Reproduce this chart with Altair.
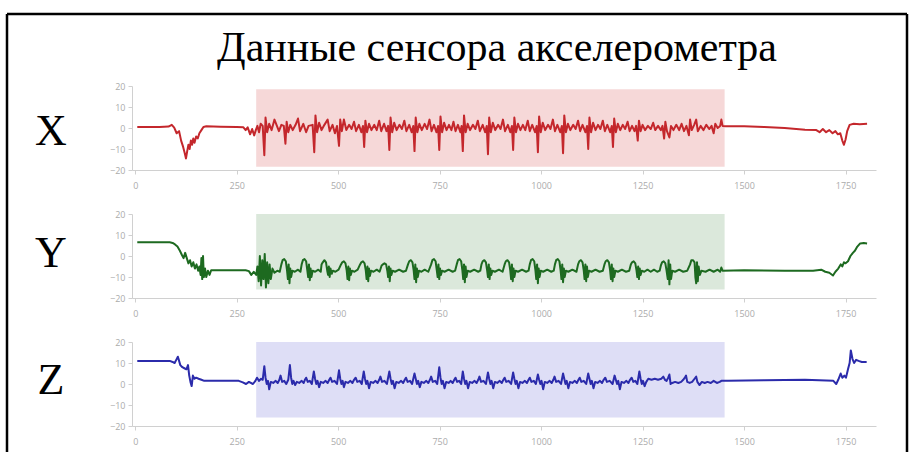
import altair as alt
import pandas as pd

# ---- text ----
TITLE = "Данные сенсора акселерометра"
AXIS_NAMES = ["X", "Y", "Z"]

# ---- axes ----
x_ticks = [0, 250, 500, 750, 1000, 1250, 1500, 1750]
y_ticks = [-20, -10, 0, 10, 20]
x_domain = [-8, 1825]
y_domain = [-20, 20]

# ---- highlighted (walking) interval per axis ----
active_start = 298
active_end = 1452
band_low = [-18.5, -16, -16]
band_high = [18.5, 20, 20]

line_colors = ["#c4272c", "#1d6a20", "#2b2bab"]
band_colors = ["#f6d8d8", "#dbe8db", "#dedef6"]

# ---- accelerometer samples: (sample index, value) ----
accel_x = [
    (5, 0.5), (60, 0.5), (82, 0.7), (90, 1.5), (96, 0.2), (102, -2.5), (108, -1.5), (113, -6),
    (118, -9), (122, -12), (125, -14.5), (128, -11), (131, -8), (134, -10), (137, -6), (140, -8),
    (143, -5), (146, -7), (150, -4), (154, -5), (158, -2.5), (163, -1), (168, 0.5), (175, 0.8),
    (210, 0.6), (250, 0.5), (266, 0.4), (272, -1), (277, 0.3), (283, -3), (288, -0.5), (293, -3.5),
    (297, -1), (301, 1), (305, -2), (309, 2),
    (314, 1), (318, -13), (321, 5), (325, -2), (330, 2), (336, -1), (343, 4), (349, 1), (354, -1.5), (360, 1.5),
    (366, 1), (370, -7.5), (373, 3), (377, -2), (382, 1.5), (388, -1), (395, 1.5), (401, 4.5), (406, -1.5), (414, 2), (421, -2), (427, 1),
    (437, 1.5), (441, -11.5), (444, 6), (448, -2), (453, 2.5), (459, -1), (466, 1.5), (474, 4), (479, -1.5), (486, 1.5), (492, -2.5), (497, 1),
    (502, -8.5), (505, 4), (509, -1.5), (514, 4), (520, -1), (527, 1.5), (533, -0.5), (539, 3), (544, -1.5), (551, 1.5), (557, -2), (561, 1),
    (564, -9), (567, 3.5), (571, -2), (576, 2), (582, -1), (589, 1.5), (595, -1), (601, 3.5), (606, -1.5), (613, 2), (619, -1.5), (623, 1),
    (626, -10.5), (629, 5), (633, -2), (638, 2.5), (644, -1), (651, 1.5), (657, -0.5), (663, 3.5), (668, -1.5), (675, 1.5), (681, -2), (685, 1),
    (688, -11), (691, 5), (695, -2), (700, 2), (706, -1), (713, 2), (719, -0.5), (725, 4), (730, -1.5), (736, 1.5), (742, -2), (746, 1),
    (749, -10.5), (752, 5.5), (756, -2), (761, 2.5), (767, -1), (773, 1.5), (779, -1), (784, 3), (789, -1.5), (795, 1.5), (801, -2), (804, 1),
    (807, -11), (810, 6), (814, -2), (819, 2), (825, -1), (832, 1.5), (838, -0.5), (844, 3.5), (849, -1.5), (856, 1.5), (862, -2), (866, 1),
    (869, -12.5), (872, 5), (876, -2), (881, 2.5), (887, -1), (894, 1.5), (900, -0.5), (906, 4), (911, -1.5), (918, 1.5), (924, -2), (928, 1),
    (931, -10.5), (934, 5), (938, -2), (943, 2), (949, -1), (955, 1.5), (961, -1), (967, 3.5), (972, -1.5), (978, 1.5), (985, -2), (989, 1),
    (992, -11.5), (995, 5.5), (999, -2), (1004, 2.5), (1010, -1), (1017, 1.5), (1023, -0.5), (1029, 4), (1034, -1.5), (1040, 1.5), (1047, -2), (1051, 1),
    (1054, -12), (1057, 6), (1061, -2), (1066, 2), (1072, -1), (1079, 1.5), (1085, -0.5), (1091, 3.5), (1096, -1.5), (1102, 1.5), (1109, -2), (1113, 1),
    (1116, -10), (1119, 5), (1123, -2), (1128, 2.5), (1134, -1), (1140, 1.5), (1146, -0.5), (1152, 3.5), (1157, -1.5), (1163, 1.5), (1170, -2), (1174, 1),
    (1177, -9), (1180, 4.5), (1184, -2), (1189, 2), (1195, -1), (1201, 1.5), (1207, -0.5), (1213, 3), (1218, -1.5), (1224, 1), (1230, -1.5), (1234, 1),
    (1238, -6), (1241, 3.5), (1245, -1.5), (1250, 1.5), (1256, -1), (1263, 1), (1270, -0.5), (1276, 2.5), (1281, -1), (1288, 1), (1295, -1), (1299, 1),
    (1303, -5), (1306, 3), (1310, -1.5), (1316, -4.5), (1320, 1), (1326, -1), (1333, 1.5), (1340, -1), (1346, 2), (1352, -1.5), (1358, 1),
    (1364, -3.5), (1367, 4), (1371, -1), (1377, 1.5), (1382, 4), (1386, -1.5), (1393, 1), (1400, -1), (1407, 1.5), (1414, -0.5),
    (1420, 1), (1425, -2.5), (1429, 2), (1435, 0), (1441, 1), (1444, 4), (1447, 1),
    (1455, 0.8), (1500, 0.8), (1550, 0.5), (1600, 0), (1650, -0.8), (1678, -1), (1686, -2), (1694, -0.5),
    (1702, -2), (1710, -1), (1718, -2.5), (1725, -1.5), (1731, -3), (1737, -2.5), (1742, -6), (1746, -8),
    (1750, -5.5), (1754, -1.5), (1760, 1.5), (1770, 2), (1785, 1.8), (1803, 2),
]

accel_y = [
    (5, 6.5), (85, 6.5), (92, 6.2), (98, 5.5), (104, 4.5), (110, 2.5), (115, 0.5), (119, -1),
    (123, 1.5), (127, -1), (131, -3.5), (135, -2), (139, -5), (143, -3), (147, -6), (151, -4),
    (155, -7), (158, -5), (161, -9), (163, -1), (165, -11), (167, 0), (169, -10), (172, -6),
    (175, -10), (179, -7), (183, -9), (187, -6.8), (230, -6.8), (272, -6.8), (280, -7.2), (286, -9),
    (292, -7.5), (298, -9),
    (301, -5), (304, -12), (307, 0), (310, -14), (313, -2), (316, -11), (319, 1), (322, -15),
    (325, -3), (328, -13), (331, -4), (334, -11), (338, -6), (343, -8), (350, -7), (356, -7.5),
    (360, -4), (363, -2), (367, -1.5), (371, -2.5), (374, -7), (376, -11), (378, -4), (380, -13), (382, -6), (384, -10), (387, -7), (393, -7.5), (401, -6.5), (407, -7.5),
    (410, -4), (413, -2), (417, -1.5), (421, -2.5), (424, -7), (426, -10), (428, -4), (430, -11.5), (432, -6), (434, -10), (437, -7), (443, -7.5), (451, -6.5), (457, -7.5),
    (459, -4), (462, -3), (466, -2), (470, -3), (473, -7), (475, -9), (477, -5), (479, -10), (481, -6), (484, -8.5), (487, -7), (493, -7.5), (501, -6.5),
    (507, -4), (510, -3), (514, -2.5), (518, -3.5), (521, -7), (523, -11), (525, -5), (527, -11.5), (529, -6), (531, -9), (534, -7), (540, -7.5), (548, -6.5),
    (554, -4), (557, -3), (561, -2.5), (565, -3.5), (568, -7), (570, -11), (572, -5), (574, -12), (576, -6), (578, -9.5), (581, -7), (587, -7.5), (595, -6.5), (602, -7.5),
    (607, -4.5), (610, -4), (614, -3.5), (618, -4), (621, -7), (623, -10), (625, -5), (627, -12), (629, -6), (631, -9), (634, -7), (640, -7.5), (650, -6.5), (660, -7.5), (667, -7),
    (672, -4), (675, -2.5), (679, -2), (683, -3), (686, -7), (688, -11), (690, -4), (692, -12.5), (694, -6), (696, -10), (699, -7), (705, -7.5), (713, -6.5), (722, -7.5),
    (729, -4), (732, -2), (736, -1.5), (740, -2.5), (743, -7), (745, -10), (747, -4), (749, -11), (751, -6), (753, -9), (756, -7), (762, -7.5), (772, -6.5), (782, -7.5), (788, -7),
    (792, -4), (795, -2), (799, -1.5), (803, -2.5), (806, -7), (808, -11), (810, -4), (812, -12.5), (814, -5), (816, -10), (819, -7), (825, -7.5), (835, -6.5), (845, -7.5), (850, -7),
    (853, -4), (856, -2.5), (860, -2), (864, -3), (867, -7), (869, -10), (871, -4), (873, -11), (875, -6), (877, -9), (880, -7), (886, -7.5), (896, -6.5), (905, -7.5),
    (910, -4), (913, -2.5), (917, -2), (921, -3), (924, -7), (926, -11), (928, -4), (930, -12), (932, -6), (934, -10), (937, -7), (943, -7.5), (953, -6.5), (963, -7.5), (969, -7),
    (972, -4), (975, -2), (979, -1.5), (983, -2.5), (986, -7), (988, -11), (990, -4), (992, -13), (994, -6), (996, -10), (999, -7), (1005, -7.5), (1015, -6.5), (1025, -7.5), (1031, -7),
    (1034, -4), (1037, -2), (1041, -1.5), (1045, -2.5), (1048, -7), (1050, -11), (1052, -4), (1054, -12.5), (1056, -6), (1058, -10), (1061, -7), (1067, -7.5), (1077, -6.5), (1087, -7.5),
    (1091, -4), (1094, -2.5), (1098, -2), (1102, -3), (1105, -7), (1107, -11), (1109, -4), (1111, -12), (1113, -5), (1115, -10), (1118, -7), (1124, -7.5), (1134, -6.5), (1144, -7.5), (1152, -7),
    (1156, -4), (1159, -2.5), (1163, -2), (1167, -3), (1170, -7), (1172, -11), (1174, -4), (1176, -12), (1178, -6), (1180, -10), (1183, -7), (1189, -7.5), (1199, -6.5), (1209, -7.5), (1217, -7),
    (1221, -4), (1224, -3), (1228, -2.5), (1232, -3.5), (1235, -7), (1237, -10), (1239, -5), (1241, -11), (1243, -6), (1245, -9), (1248, -7), (1254, -7.5), (1262, -6.5), (1270, -7.5), (1278, -6.5), (1286, -7.5), (1292, -7),
    (1295, -4.5), (1298, -3), (1302, -2.5), (1306, -3.5), (1309, -7), (1312, -11), (1314, -2), (1316, -13.5), (1318, -4), (1320, -11), (1323, -7), (1330, -7.5), (1340, -6.5), (1350, -7.5), (1360, -7),
    (1367, -4), (1370, -2), (1374, -2), (1378, -3), (1380, -10), (1382, -13), (1384, -3), (1386, -12), (1388, -5), (1391, -9), (1395, -7), (1405, -7.5), (1415, -6.5), (1425, -7.5), (1435, -6.5), (1441, -7.5), (1444, -5.5), (1447, -7),
    (1500, -6.8), (1600, -7), (1670, -7), (1690, -6.5), (1700, -7.5), (1710, -8), (1719, -9.3), (1725, -7.5),
    (1732, -6), (1738, -4), (1742, -5), (1746, -3), (1750, -3.5), (1756, -2.5), (1762, 0), (1768, 1.5),
    (1773, 2.5), (1779, 4.5), (1786, 6), (1795, 6.2), (1803, 6),
]

accel_z = [
    (5, 11), (85, 11), (92, 10.5), (97, 10), (101, 11.5), (105, 13), (108, 11), (111, 9),
    (116, 8), (121, 7.5), (126, 7), (130, 9), (133, 4), (136, 1), (139, -1), (142, 4),
    (146, 2.5), (150, 3), (156, 2.5), (163, 2), (170, 1.5), (220, 1.5), (255, 1.5), (265, 0.8),
    (273, 0), (280, 1), (290, 0), (296, 1.5), (300, 3), (305, 1.5), (310, 2.5),
    (314, 2), (318, 8.5), (321, 3), (324, 0), (327, 1.5), (330, -2.5), (334, 1), (340, 0.5), (346, 1.5), (351, 0.5), (355, 2), (358, 4), (362, 1), (367, 1.5), (372, 0),
    (377, 2), (381, 9), (384, 3), (387, 0), (390, 1.5), (394, -0.5), (398, 1), (404, 0.5), (410, 1.5), (415, 0.5), (418, 2), (421, 3), (425, 1), (430, 1.5), (435, 0),
    (440, 6), (443, 2.5), (446, 0), (449, 1.5), (453, -1.5), (457, 1), (463, 0.5), (469, 1.5), (474, 0.5), (478, 2), (481, 3), (485, 1), (491, 1.5), (497, 0),
    (502, 6.5), (505, 2.5), (508, 0), (511, 1.5), (514, -1.5), (518, 1), (524, 0.5), (530, 1.5), (535, 0.5), (539, 2), (543, 3), (547, 1), (553, 1.5), (558, 0),
    (563, 6), (566, 2.5), (569, 0), (572, 1.5), (576, -2), (580, 1), (586, 0.5), (592, 1.5), (597, 0.5), (601, 2), (604, 3.5), (608, 1), (614, 1.5), (620, 0),
    (626, 6), (629, 2.5), (632, 0), (635, 1.5), (639, -2), (643, 1), (649, 0.5), (655, 1.5), (660, 0.5), (664, 2), (667, 3), (671, 1), (677, 1.5), (682, 0),
    (688, 5), (691, 2.5), (694, 0), (697, 1.5), (701, -1.5), (705, 1), (711, 0.5), (717, 1.5), (722, 0.5), (726, 2), (729, 3.5), (733, 1), (739, 1.5), (744, 0),
    (749, 8), (752, 3), (755, 0), (758, 1.5), (762, -2), (766, 1), (772, 0.5), (777, 1.5), (782, 0.5), (786, 2), (789, 3), (793, 1), (798, 1.5), (803, 0),
    (807, 6), (810, 2.5), (813, 0), (816, 1.5), (820, -2), (824, 1), (830, 0.5), (836, 1.5), (841, 0.5), (845, 2), (848, 3.5), (852, 1), (858, 1.5), (864, 0),
    (869, 5.5), (872, 2.5), (875, 0), (878, 1.5), (882, -2), (886, 1), (892, 0.5), (898, 1.5), (903, 0.5), (907, 2), (910, 3), (914, 1), (920, 1.5), (926, 0),
    (931, 5.5), (934, 2.5), (937, 0), (940, 1.5), (944, -2), (948, 1), (954, 0.5), (960, 1.5), (965, 0.5), (969, 2), (972, 3), (976, 1), (982, 1.5), (987, 0),
    (992, 4.5), (995, 2), (998, 0), (1001, 1.5), (1005, -2.5), (1009, 1), (1015, 0.5), (1021, 1.5), (1026, 0.5), (1030, 2), (1033, 3.5), (1037, 1), (1043, 1.5), (1049, 0),
    (1054, 5), (1057, 2.5), (1060, 0), (1063, 1.5), (1067, -2), (1071, 1), (1077, 0.5), (1083, 1.5), (1088, 0.5), (1092, 2), (1095, 3), (1099, 1), (1105, 1.5), (1111, 0),
    (1116, 5), (1119, 2.5), (1122, 0), (1125, 1.5), (1129, -2), (1133, 1), (1139, 0.5), (1145, 1.5), (1150, 0.5), (1154, 2), (1158, 3), (1162, 1), (1169, 1.5), (1176, 0),
    (1181, 4), (1184, 2), (1187, 0), (1190, 1.5), (1194, -2.5), (1198, 1), (1204, 0.5), (1210, 1.5), (1215, 0.5), (1219, 2), (1223, 3), (1227, 1), (1232, 1.5), (1237, 0),
    (1242, 6), (1245, 2.5), (1248, 0), (1251, 1.5), (1255, -1), (1259, 1), (1264, 2.5), (1272, 2), (1280, 2.5), (1288, 2),
    (1296, 2.5), (1301, 3.5), (1305, 2), (1309, 1.5), (1313, 3), (1316, 4.5), (1319, 0), (1323, 0.5), (1330, 1), (1338, 0.5),
    (1345, 1), (1350, 2), (1354, 3), (1357, 4), (1360, 1), (1366, 0.5), (1372, 1), (1378, 2.5), (1382, 3.5), (1385, 1),
    (1390, -0.5), (1396, 1), (1403, 0.5), (1410, 1), (1418, 0.5), (1425, 1.5), (1433, 0.5), (1440, 1), (1444, 1.5),
    (1460, 1.5), (1550, 1.8), (1650, 2), (1720, 1.5), (1727, 0), (1732, 2), (1738, 5), (1742, 3),
    (1747, 4), (1751, 3), (1756, 7), (1760, 10), (1763, 16), (1767, 12), (1771, 10), (1776, 11.5),
    (1782, 11), (1790, 10.5), (1802, 10.5),
]

series = [accel_x, accel_y, accel_z]

# ---- layout (pixels) ----
PANEL_W = 744
PANEL_H = 84
PANEL_GAP = 44
letter_baseline = [59, 53, 52]

x_scale = alt.Scale(domain=x_domain, nice=False, zero=False)
y_scale = alt.Scale(domain=y_domain, nice=False)
x_axis = alt.Axis(values=x_ticks, format="d", title=None, grid=False, labelPadding=7)
y_axis = alt.Axis(values=y_ticks, format="d", title=None, grid=False, labelPadding=3)


def panel(i, extra_layers=()):
    band_df = pd.DataFrame({
        "start": [active_start], "end": [active_end],
        "low": [band_low[i]], "high": [band_high[i]],
    })
    band = alt.Chart(band_df).mark_rect(color=band_colors[i]).encode(
        x=alt.X("start:Q", scale=x_scale, axis=x_axis),
        x2="end:Q",
        y=alt.Y("low:Q", scale=y_scale, axis=y_axis),
        y2="high:Q",
    )
    line_df = pd.DataFrame(series[i], columns=["sample", "value"])
    line = alt.Chart(line_df).mark_line(
        color=line_colors[i], strokeWidth=2, strokeJoin="round"
    ).encode(
        x=alt.X("sample:Q", scale=x_scale, axis=x_axis),
        y=alt.Y("value:Q", scale=y_scale, axis=y_axis),
    )
    letter = alt.Chart(pd.DataFrame({"name": [AXIS_NAMES[i]]})).mark_text(
        font="Liberation Serif", fontSize=44, color="black",
        align="center", baseline="alphabetic",
    ).encode(text="name:N", x=alt.value(-81), y=alt.value(letter_baseline[i]))
    return alt.layer(band, line, letter, *extra_layers).properties(
        width=PANEL_W, height=PANEL_H
    )


one_row = pd.DataFrame({"k": [0]})
title_text = alt.Chart(pd.DataFrame({"t": [TITLE]})).mark_text(
    font="Liberation Serif", fontSize=42, color="black",
    align="center", baseline="alphabetic",
).encode(text="t:N", x=alt.value(365), y=alt.value(-25))

frame_style = dict(color="black", strokeWidth=2.5)
frame_left = alt.Chart(one_row).mark_rule(**frame_style).encode(
    x=alt.value(-125), y=alt.value(-72), y2=alt.value(366))
frame_right = alt.Chart(one_row).mark_rule(**frame_style).encode(
    x=alt.value(775), y=alt.value(-72), y2=alt.value(366))
frame_top = alt.Chart(one_row).mark_rule(**frame_style).encode(
    x=alt.value(-125), x2=alt.value(775), y=alt.value(-72))

chart = alt.vconcat(
    panel(0, [title_text, frame_left, frame_right, frame_top]),
    panel(1),
    panel(2),
    spacing=PANEL_GAP,
    bounds="flush",
).properties(
    padding={"left": 5, "top": 12, "right": 0, "bottom": 0},
    background="white",
).configure_view(
    stroke=None
).configure_axis(
    domainColor="#d0d0d0",
    tickColor="#d0d0d0",
    labelColor="#ababab",
    labelFont="Open Sans",
    labelFontSize=9,
    tickSize=4,
)

chart.save("out.html", embed_options={"renderer": "svg", "actions": False})
